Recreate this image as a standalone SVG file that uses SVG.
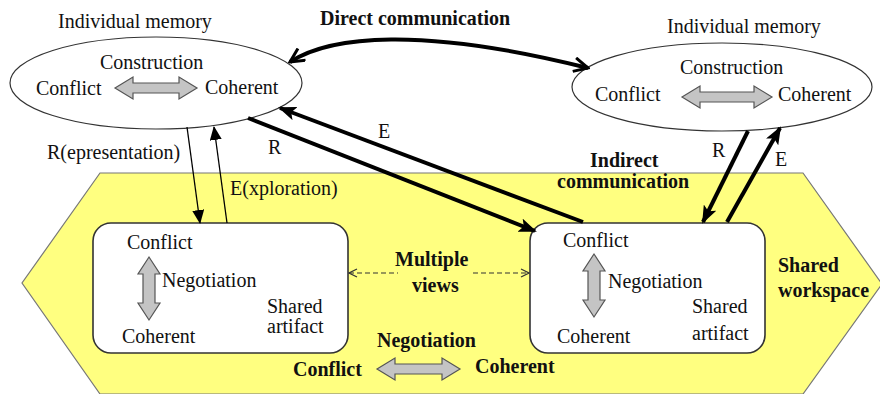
<svg xmlns="http://www.w3.org/2000/svg" width="880" height="394" viewBox="0 0 880 394" font-family="Liberation Serif, Times New Roman, DejaVu Serif, Noto Serif, serif">
<style>
  text { font-size: 20px; fill: #111; }
  .b { font-weight: bold; }
  .ell { fill: #ffffff; stroke: #333; stroke-width: 1.2; }
  .box { fill: #ffffff; stroke: #333; stroke-width: 1.6; }
  .blk { fill: #c4c4c4; stroke: #555; stroke-width: 1.2; }
  .thick { stroke: #000; stroke-width: 4; fill: none; }
  .thin { stroke: #000; stroke-width: 1.3; fill: none; }
  .dash { stroke: #333; stroke-width: 1.2; fill: none; stroke-dasharray: 5 3; }
</style>
<defs>
  <marker id="headThick" markerUnits="userSpaceOnUse" viewBox="0 0 18 14" refX="16" refY="7" markerWidth="18" markerHeight="14" orient="auto-start-reverse">
    <path d="M0,0 L18,7 L0,14 L4,7 Z" fill="#000"/>
  </marker>
  <marker id="headThin" markerUnits="userSpaceOnUse" viewBox="0 0 14 12" refX="13" refY="6" markerWidth="14" markerHeight="12" orient="auto-start-reverse">
    <path d="M0,0 L14,6 L0,12 Z" fill="#000"/>
  </marker>
  <marker id="headOpen" markerUnits="userSpaceOnUse" viewBox="0 0 18 16" refX="16" refY="8" markerWidth="18" markerHeight="16" orient="auto-start-reverse">
    <path d="M2,1 L16,8 L2,15" fill="none" stroke="#000" stroke-width="3"/>
  </marker>
  <marker id="headDash" markerUnits="userSpaceOnUse" viewBox="0 0 10 10" refX="9" refY="5" markerWidth="10" markerHeight="10" orient="auto-start-reverse">
    <path d="M1,1 L9,5 L1,9" fill="none" stroke="#333" stroke-width="1.2"/>
  </marker>
</defs>

<g id="shared-workspace">
  <polygon points="100,173 803,173 882,284 803,394 100,394 22,283" fill="#ffff80" stroke="#777" stroke-width="1.2"/>
  <text class="b" x="778" y="272">Shared</text>
  <text class="b" x="778" y="297">workspace</text>
</g>

<g id="memory-left">
  <text x="58" y="28">Individual memory</text>
  <ellipse class="ell" cx="156" cy="83" rx="146" ry="46"/>
  <text x="100" y="69">Construction</text>
  <text x="36" y="95">Conflict</text>
  <path class="blk" d="M115,88 L133,77 L133,83 L179,83 L179,77 L197,88 L179,99 L179,93 L133,93 L133,99 Z"/>
  <text x="205" y="94">Coherent</text>
</g>

<g id="memory-right">
  <text x="667" y="33">Individual memory</text>
  <ellipse class="ell" cx="722" cy="87" rx="150" ry="44"/>
  <text x="680" y="74">Construction</text>
  <text x="595" y="101">Conflict</text>
  <path class="blk" d="M682,97 L700,86 L700,92 L754,92 L754,86 L772,97 L754,108 L754,102 L700,102 L700,108 Z"/>
  <text x="778" y="101">Coherent</text>
</g>

<g id="artifact-left">
  <rect class="box" x="93" y="223" width="255" height="130" rx="18"/>
  <text x="127" y="249">Conflict</text>
  <path class="blk" d="M149,257 L160,274 L155,274 L155,303 L160,303 L149,320 L138,303 L143,303 L143,274 L138,274 Z"/>
  <text x="162" y="287">Negotiation</text>
  <text x="267" y="313">Shared</text>
  <text x="267" y="333">artifact</text>
  <text x="122" y="343">Coherent</text>
</g>

<g id="artifact-right">
  <rect class="box" x="530" y="223" width="235" height="130" rx="18"/>
  <text x="563" y="247">Conflict</text>
  <path class="blk" d="M594,254 L605,271 L600,271 L600,300 L605,300 L594,317 L583,300 L588,300 L588,271 L583,271 Z"/>
  <text x="608" y="288">Negotiation</text>
  <text x="692" y="313">Shared</text>
  <text x="692" y="340">artifact</text>
  <text x="557" y="343">Coherent</text>
</g>

<g id="negotiation-bottom">
  <text class="b" x="377" y="347">Negotiation</text>
  <text class="b" x="293" y="376">Conflict</text>
  <path class="blk" d="M377,369 L395,358 L395,364 L442,364 L442,358 L460,369 L442,380 L442,374 L395,374 L395,380 Z"/>
  <text class="b" x="475" y="373">Coherent</text>
</g>

<g id="connectors">
  <path class="thick" d="M290,62 C330,36 420,26 588,68" stroke-width="3" marker-start="url(#headOpen)" marker-end="url(#headOpen)"/>
  <text class="b" x="320" y="25">Direct communication</text>

  <line class="thin" x1="187" y1="127" x2="200" y2="223" marker-end="url(#headThin)"/>
  <line class="thin" x1="227" y1="223" x2="214" y2="127" marker-end="url(#headThin)"/>
  <text x="47" y="159">R(epresentation)</text>
  <text x="230" y="195">E(xploration)</text>

  <line class="thick" x1="248" y1="118" x2="535" y2="231" marker-end="url(#headThick)"/>
  <line class="thick" x1="583" y1="222" x2="280" y2="108" marker-end="url(#headThick)"/>
  <text x="268" y="154">R</text>
  <text x="378" y="138">E</text>

  <line class="thick" x1="748" y1="131" x2="703" y2="222" marker-end="url(#headThick)"/>
  <line class="thick" x1="727" y1="222" x2="780" y2="128" marker-end="url(#headThick)"/>
  <text x="712" y="157">R</text>
  <text x="775" y="166">E</text>
  <text class="b" x="590" y="167">Indirect</text>
  <text class="b" x="557" y="188">communication</text>

  <line class="dash" x1="349" y1="273" x2="398" y2="273" marker-start="url(#headDash)"/>
  <line class="dash" x1="473" y1="273" x2="529" y2="273" marker-end="url(#headDash)"/>
  <text class="b" x="395" y="266">Multiple</text>
  <text class="b" x="412" y="292">views</text>
</g>
</svg>
